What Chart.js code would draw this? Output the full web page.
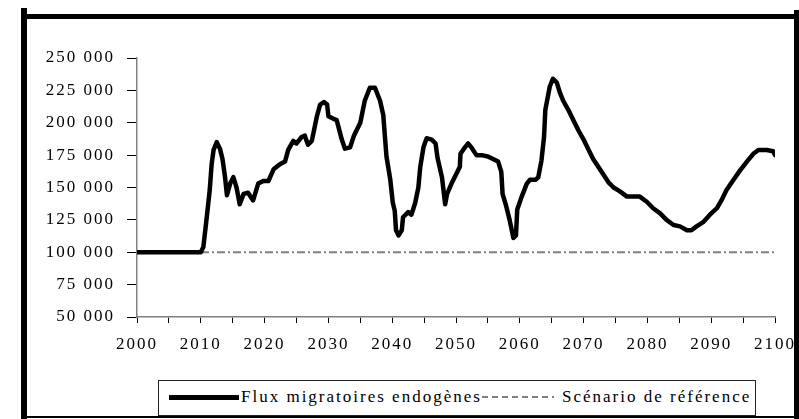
<!DOCTYPE html>
<html>
<head>
<meta charset="utf-8">
<script src="https://cdn.jsdelivr.net/npm/chart.js@4/dist/chart.umd.min.js"></script>
<style>
  html, body { margin: 0; padding: 0; background: #fff; }
  #wrap { position: relative; width: 799px; height: 419px; overflow: hidden; background: #fff; }
  #c { position: absolute; left: 0; top: 0; }
  .bar { position: absolute; background: #000; }
  #legend { position: absolute; left: 158px; top: 380px; width: 596px; height: 34px; border: 1px solid #222; background: #fff;
            font-family: 'Liberation Serif', serif; font-size: 17px; letter-spacing: 2px; color: #000; }
  #legend .s1 { position: absolute; left: 10px; top: 14px; width: 70px; height: 5px; background: #000; }
  #legend .t1 { position: absolute; left: 82px; top: 6px; white-space: nowrap; }
  #legend .s2 { position: absolute; left: 323px; top: 15px; width: 72px; height: 2px;
                background: repeating-linear-gradient(90deg, #808080 0 6px, transparent 6px 10px); }
  #legend .t2 { position: absolute; left: 403px; top: 6px; white-space: nowrap; }
</style>
</head>
<body>
<div id="wrap">
  <canvas id="c" width="799" height="419"></canvas>
  <div class="bar" style="left:21px;top:14px;width:776px;height:5px;"></div>
  <div class="bar" style="left:21px;top:8px;width:6px;height:411px;"></div>
  <div class="bar" style="left:794px;top:10px;width:5px;height:409px;"></div>
  <div class="bar" style="left:21px;top:416px;width:778px;height:2px;"></div>
  <div id="legend">
    <div class="s1"></div><span class="t1">Flux migratoires endogènes</span>
    <div class="s2"></div><span class="t2">Scénario de référence</span>
  </div>
</div>
<script>
// ---- data ----
const years = [2000, 2010, 2010.4, 2011.0, 2011.4, 2011.7, 2012.0, 2012.5, 2013.0, 2013.4, 2013.8, 2014.1, 2014.6, 2015.1, 2015.6, 2016.1, 2016.7, 2017.4, 2018.2, 2019.0, 2019.8, 2020.6, 2021.4, 2022.4, 2023.2, 2023.7, 2024.5, 2025.0, 2025.8, 2026.3, 2026.8, 2027.4, 2028.2, 2028.7, 2029.3, 2029.8, 2030.0, 2030.8, 2031.3, 2032.1, 2032.6, 2033.4, 2034.0, 2035.0, 2035.7, 2036.5, 2037.3, 2038.1, 2038.6, 2039.1, 2039.7, 2040.1, 2040.4, 2040.6, 2041.0, 2041.5, 2041.7, 2042.5, 2043.0, 2043.6, 2044.1, 2044.4, 2044.9, 2045.4, 2046.2, 2046.8, 2047.1, 2047.8, 2048.3, 2048.6, 2049.3, 2050.1, 2050.6, 2050.7, 2051.4, 2051.9, 2052.4, 2053.2, 2054.0, 2055.0, 2055.8, 2056.6, 2057.1, 2057.3, 2057.9, 2058.4, 2059.0, 2059.4, 2059.6, 2060.3, 2061.1, 2061.6, 2062.5, 2062.9, 2063.4, 2063.8, 2064.0, 2064.7, 2065.2, 2065.8, 2066.3, 2066.8, 2067.6, 2068.4, 2069.2, 2070.0, 2070.7, 2071.5, 2072.3, 2073.1, 2073.9, 2074.7, 2075.7, 2076.8, 2077.8, 2078.8, 2079.9, 2080.9, 2082.0, 2083.0, 2084.1, 2085.1, 2086.2, 2086.9, 2087.7, 2088.8, 2089.8, 2090.9, 2091.6, 2092.4, 2093.5, 2094.5, 2095.6, 2096.6, 2097.4, 2098.7, 2099.7, 2100];
const flux = [100000, 100000, 104000, 130000, 148000, 168000, 179000, 185000, 180000, 172000, 158000, 144000, 153000, 158000, 150000, 137000, 145000, 146000, 140000, 153000, 155000, 155000, 164000, 168000, 170000, 179000, 186000, 184000, 189000, 190000, 183000, 186000, 205000, 214000, 216000, 214000, 205000, 203000, 202000, 187000, 180000, 181000, 190000, 200000, 217000, 227000, 227000, 217000, 206000, 174000, 156000, 138000, 132000, 117000, 113000, 117000, 127000, 131000, 129000, 138000, 150000, 166000, 181000, 188000, 187000, 184000, 173000, 158000, 137000, 145000, 153000, 161000, 166000, 176000, 181000, 184000, 181000, 175000, 175000, 174000, 172000, 170000, 162000, 145000, 135000, 125000, 111000, 113000, 133000, 143000, 153000, 156000, 156000, 158000, 171000, 189000, 210000, 228000, 234000, 231000, 223000, 217000, 210000, 202000, 194000, 187000, 180000, 172000, 166000, 160000, 154000, 150000, 147000, 143000, 143000, 143000, 139000, 134000, 130000, 125000, 121000, 120000, 117000, 117000, 120000, 123500, 129000, 134000, 140000, 148000, 156000, 163000, 170000, 176000, 179000, 179000, 178000, 175000];
const refYears = [2000, 2100];
const refValues = [100000, 100000];
const yTicks = [50000, 75000, 100000, 125000, 150000, 175000, 200000, 225000, 250000];
const xLabelYears = [2000, 2010, 2020, 2030, 2040, 2050, 2060, 2070, 2080, 2090, 2100];

const fmt = v => String(v).replace(/\B(?=(\d{3})+(?!\d))/g, ' ');

Chart.defaults.font.family = "'Liberation Serif', 'Times New Roman', serif";
Chart.defaults.font.size = 17;
Chart.defaults.color = '#000';

const spacing = {
  id: 'spacing',
  beforeUpdate(chart) { chart.ctx.letterSpacing = '2px'; },
  beforeLayout(chart) { chart.ctx.letterSpacing = '2px'; },
  beforeDraw(chart) { chart.ctx.letterSpacing = '2px'; }
};

new Chart(document.getElementById('c'), {
  type: 'line',
  data: {
    datasets: [
      {
        label: 'Scénario de référence',
        data: refYears.map((x, i) => ({ x, y: refValues[i] })),
        borderColor: '#808080',
        borderWidth: 2,
        borderDash: [8, 3, 2, 3],
        pointRadius: 0,
        fill: false,
        tension: 0,
        order: 2
      },
      {
        label: 'Flux migratoires endogènes',
        data: years.map((x, i) => ({ x, y: flux[i] })),
        borderColor: '#000',
        borderWidth: 4.5,
        pointRadius: 0,
        fill: false,
        tension: 0,
        borderJoinStyle: 'round',
        borderCapStyle: 'round',
        order: 1
      }
    ]
  },
  options: {
    responsive: false,
    animation: false,
    devicePixelRatio: 1,
    layout: { padding: { left: 0, top: 58, right: 24, bottom: 0 } },
    plugins: { legend: { display: false }, tooltip: { enabled: false } },
    scales: {
      x: {
        type: 'linear',
        min: 2000,
        max: 2100,
        afterFit(s) { s.height = 102; s.paddingLeft = 0; s.paddingRight = 0; },
        border: { color: '#808080', width: 1.5 },
        grid: { drawOnChartArea: false, color: '#000', tickLength: 6, lineWidth: 1 },
        ticks: {
          stepSize: 5,
          autoSkip: false,
          maxRotation: 0,
          padding: 11,
          callback: v => xLabelYears.includes(v) ? String(v) : ''
        }
      },
      y: {
        min: 50000,
        max: 250000,
        afterFit(s) { s.width = 137; s.paddingTop = 0; s.paddingBottom = 0; },
        afterBuildTicks(s) { s.ticks = yTicks.map(v => ({ value: v })); },
        border: { color: '#808080', width: 1.5 },
        grid: { drawOnChartArea: false, color: '#000', tickLength: 10, lineWidth: 1 },
        ticks: { padding: 12, callback: v => fmt(v) }
      }
    }
  },
  plugins: [spacing]
});
</script>
</body>
</html>
